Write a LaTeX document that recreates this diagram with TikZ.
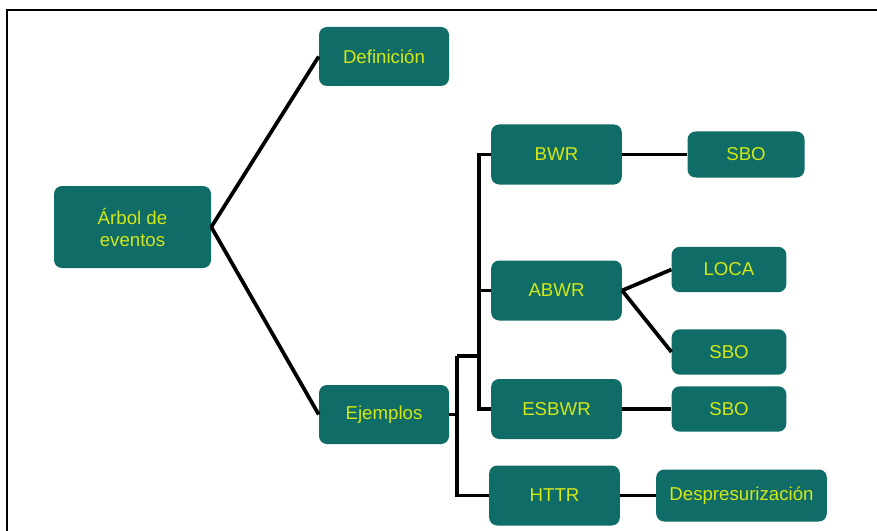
\documentclass[tikz,border=0pt]{standalone}
\usepackage{fontspec}
\setmainfont{Liberation Sans}
\definecolor{boxteal}{RGB}{15,108,103}
\definecolor{boxtext}{RGB}{212,232,20}

\begin{document}
\begin{tikzpicture}[x=0.75pt,y=-0.75pt,
  box/.style={rectangle,rounded corners=6pt,fill=boxteal,text=boxtext,
    inner sep=0pt,align=center,font=\fontsize{14}{16.5}\selectfont},
  link/.style={line width=2.8pt,black}]
  \useasboundingbox (0,0) rectangle (877,531);
  % frame
  \draw[line width=1.8pt] (7,540)--(7,10)--(880,10);

  \node[box,minimum width=117.75pt,minimum height=61.5pt] (arbol) at (132.5,227) {Árbol de\\eventos};
  \node[box,minimum width=97.5pt,minimum height=44.25pt] (def) at (384,56.5) {Definición};
  \node[box,minimum width=97.5pt,minimum height=44.25pt] (ejem) at (384,414.5) {Ejemplos};

  \node[box,minimum width=98pt,minimum height=45pt] (bwr) at (556.5,154.5) {BWR};
  \node[box,minimum width=98pt,minimum height=45pt] (abwr) at (556.5,290.5) {ABWR};
  \node[box,minimum width=98pt,minimum height=45pt] (esbwr) at (556.5,409) {ESBWR};
  \node[box,minimum width=98pt,minimum height=45pt] (httr) at (554.5,495.5) {HTTR};

  \node[box,minimum width=87.75pt,minimum height=34.5pt] (sboa) at (746,154.5) {SBO};
  \node[box,minimum width=86pt,minimum height=34pt] (loca) at (729,269.5) {LOCA};
  \node[box,minimum width=86pt,minimum height=34pt] (sbob) at (729,352) {SBO};
  \node[box,minimum width=86pt,minimum height=34pt] (sboc) at (729,409) {SBO};
  \node[box,minimum width=128pt,minimum height=39pt] (desp) at (741.5,495.5) {Despresurización};

  \coordinate (j1) at (457,414.5);
  \coordinate (j2) at (479,356);

  \draw[link] (arbol.east)--(def.west);
  \draw[link] (arbol.east)--(ejem.west);
  \draw[link] (ejem.east)--(j1);
  \draw[link] (j1 |- j2) |- (httr.west);
  \draw[link] (j1 |- j2)--(j2);
  \draw[link] (bwr.west) -| (j2 |- esbwr.west)--(esbwr.west);
  \draw[link] (abwr.west)--(abwr.west -| j2);

  \draw[link] (bwr.east)--(sboa.west);
  \draw[link] (abwr.east)--(loca.west);
  \draw[link] (abwr.east)--(sbob.west);
  \draw[link] (esbwr.east)--(sboc.west);
  \draw[link] (httr.east)--(desp.west);
\end{tikzpicture}
\end{document}
